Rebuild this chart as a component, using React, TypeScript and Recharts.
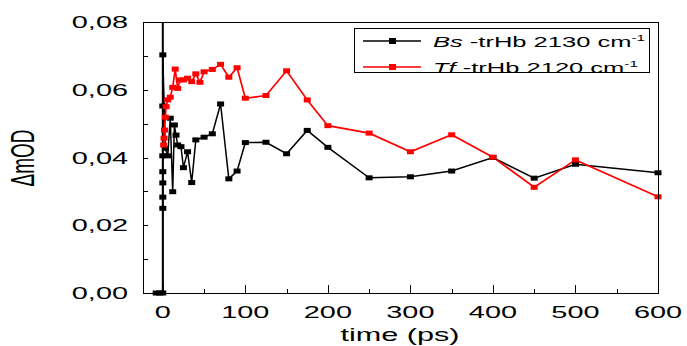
import React from 'react';
import { LineChart, Line, XAxis, YAxis, ReferenceLine, Legend } from 'recharts';

// Bs-trHb 2130 cm-1 transient
const bsTime = [-8, -4, 0, 0, 0, 0, 0, 0, 0, 0, 3, 6, 9, 12, 14, 16, 18, 22, 25, 30, 35, 40, 50, 60, 70, 80, 90, 100, 125, 150, 175, 200, 250, 300, 350, 400, 450, 500, 600];
const bsSignal = [0, 0, 0, 0.025, 0.0283, 0.0325, 0.0358, 0.0405, 0.0552, 0.0703, 0.0427, 0.0405, 0.0516, 0.0299, 0.0496, 0.0466, 0.0437, 0.0432, 0.037, 0.0417, 0.0326, 0.0452, 0.046, 0.047, 0.0558, 0.0337, 0.036, 0.0444, 0.0445, 0.0411, 0.048, 0.043, 0.034, 0.0343, 0.036, 0.04, 0.0339, 0.038, 0.0355];

// Tf-trHb 2120 cm-1 transient
const tfTime = [1, 1.5, 2, 3, 4, 6, 9, 12, 15, 18, 21, 25, 30, 35, 40, 45, 50, 60, 70, 80, 90, 100, 125, 150, 175, 200, 250, 300, 350, 400, 450, 500, 600];
const tfSignal = [0.0437, 0.0457, 0.0481, 0.0519, 0.055, 0.057, 0.0578, 0.0607, 0.0661, 0.0604, 0.0629, 0.0629, 0.0634, 0.0624, 0.0647, 0.0622, 0.0653, 0.066, 0.0675, 0.0637, 0.0665, 0.0575, 0.0583, 0.0656, 0.057, 0.0494, 0.0472, 0.0417, 0.0467, 0.0401, 0.0312, 0.0393, 0.0284];

const xTicks = [0, 50, 100, 150, 200, 250, 300, 350, 400, 450, 500, 550, 600];
const yTicks = [0, 0.01, 0.02, 0.03, 0.04, 0.05, 0.06, 0.07, 0.08];

const legendSpecies = ['Bs', 'Tf'];
const legendFreq = [2130, 2120];
const seriesColors = ['#000000', '#ff0000'];

const bsData = bsTime.map((t, i) => ({ t, v: bsSignal[i] }));
const tfData = tfTime.map((t, i) => ({ t, v: tfSignal[i] }));

const FONT = '"Liberation Sans", Arial, sans-serif';
const STRETCH = 1.7;

// chart box and axis ranges, shared by the chart and the frame overlay
const W = 687;
const H = 346;
const X_DOMAIN = [-24, 600];
const Y_DOMAIN = [0, 0.08];
const AXIS_W = 143;
const AXIS_H = 53;
const MARGIN = { top: 22, right: 29, bottom: 0, left: 0 };
const plot = {
  left: MARGIN.left + AXIS_W,
  right: W - MARGIN.right,
  top: MARGIN.top,
  bottom: H - MARGIN.bottom - AXIS_H,
};
const xPx = (t: number) => plot.left + ((t - X_DOMAIN[0]) / (X_DOMAIN[1] - X_DOMAIN[0])) * (plot.right - plot.left);
const yPx = (v: number) => plot.bottom - ((v - Y_DOMAIN[0]) / (Y_DOMAIN[1] - Y_DOMAIN[0])) * (plot.bottom - plot.top);

const XTick = (props: any) => {
  const { x, y, payload } = props;
  if (payload.value % 100 !== 0) return <g />;
  return (
    <text
      transform={`translate(${x},${y + 25}) scale(${STRETCH},1)`}
      textAnchor="middle"
      fontSize={17}
      fontFamily={FONT}
      fill="#000"
    >
      {payload.value}
    </text>
  );
};

const YTick = (props: any) => {
  const { x, y, payload } = props;
  if (Math.round(payload.value * 100) % 2 !== 0) return <g />;
  return (
    <text
      transform={`translate(${x - 15},${y + 6}) scale(${STRETCH},1)`}
      textAnchor="end"
      fontSize={17}
      fontFamily={FONT}
      fill="#000"
    >
      {payload.value.toFixed(2).replace('.', ',')}
    </text>
  );
};

const mark = (left: number, top: number, width: number, height: number, key: string) => (
  <div key={key} style={{ position: 'absolute', left, top, width, height, background: '#000' }} />
);

// box frame with inward tick marks
const Frame = () => (
  <div style={{ position: 'absolute', left: 0, top: 0, width: W, height: H, pointerEvents: 'none', zIndex: 5 }}>
    <div
      style={{
        position: 'absolute',
        left: plot.left,
        top: plot.top,
        width: plot.right - plot.left + 1,
        height: plot.bottom - plot.top + 1,
        border: '1px solid #000',
        boxSizing: 'border-box',
      }}
    />
    {xTicks.map((t) => {
      const len = t % 100 === 0 ? 8 : 4;
      return mark(Math.round(xPx(t)), plot.bottom - len, 1, len, `x${t}`);
    })}
    {yTicks.map((v) => mark(plot.left, Math.round(yPx(v)), 5, 1, `y${v}`))}
  </div>
);

const squareDot = (color: string) => (p: any) => (
  <rect key={`${color}-${p.index}`} x={p.cx - 3.5} y={p.cy - 2.5} width={7} height={5} fill={color} />
);

const LegendBox = () => (
  <div
    style={{
      position: 'relative',
      width: 296,
      height: 45,
      border: '1px solid #000',
      boxSizing: 'border-box',
      background: '#fff',
    }}
  >
    {legendSpecies.map((sp, i) => (
      <div
        key={sp}
        style={{ position: 'absolute', left: 0, top: 1 + i * 26, height: 22, display: 'flex', alignItems: 'center' }}
      >
        <svg width={78} height={22} style={{ flex: 'none' }}>
          <line x1={8} x2={66} y1={11} y2={11} stroke={seriesColors[i]} strokeWidth={1.5} />
          <rect x={34} y={8} width={7} height={6} fill={seriesColors[i]} />
        </svg>
        <span
          style={{
            display: 'inline-block',
            transform: `scaleX(${STRETCH})`,
            transformOrigin: 'left center',
            fontSize: 15,
            fontFamily: FONT,
            whiteSpace: 'nowrap',
            color: '#000',
          }}
        >
          <i>{sp}</i> -trHb {legendFreq[i]} cm<sup style={{ fontSize: 9 }}>-1</sup>
        </span>
      </div>
    ))}
  </div>
);

export default function App() {
  return (
    <div style={{ position: 'absolute', left: 0, top: 0, width: W, height: H, background: '#fff' }}>
      <LineChart width={W} height={H} margin={MARGIN}>
        <XAxis
          dataKey="t"
          type="number"
          domain={X_DOMAIN}
          ticks={xTicks}
          height={AXIS_H}
          tickSize={0}
          tickMargin={0}
          tickLine={false}
          axisLine={false}
          tick={(p: any) => <XTick {...p} />}
          label={
            <g>
              <text transform={`translate(400,341) scale(${STRETCH},1)`} textAnchor="middle" fontSize={18} fontFamily={FONT} fill="#000">
                time (ps)
              </text>
            </g>
          }
        />
        <YAxis
          dataKey="v"
          type="number"
          domain={Y_DOMAIN}
          ticks={yTicks}
          width={AXIS_W}
          tickSize={0}
          tickMargin={0}
          tickLine={false}
          axisLine={false}
          tick={(p: any) => <YTick {...p} />}
          label={
            <g>
              <text transform={`translate(34,158) scale(${STRETCH},1) rotate(-90)`} textAnchor="middle" fontSize={19} fontFamily={FONT} fill="#000">
                ΔmOD
              </text>
            </g>
          }
        />
        <ReferenceLine x={0} stroke="#000" strokeWidth={2} />
        <Legend
          layout="vertical"
          align="center"
          verticalAlign="middle"
          content={<LegendBox />}
          wrapperStyle={{ left: 354, top: 28, width: 296, height: 45 }}
        />
        <Line
          data={bsData}
          dataKey="v"
          name="Bs"
          stroke={seriesColors[0]}
          strokeWidth={1.5}
          dot={squareDot(seriesColors[0])}
          activeDot={false}
          isAnimationActive={false}
        />
        <Line
          data={tfData}
          dataKey="v"
          name="Tf"
          stroke={seriesColors[1]}
          strokeWidth={1.7}
          dot={squareDot(seriesColors[1])}
          activeDot={false}
          isAnimationActive={false}
        />
      </LineChart>
      <Frame />
    </div>
  );
}
